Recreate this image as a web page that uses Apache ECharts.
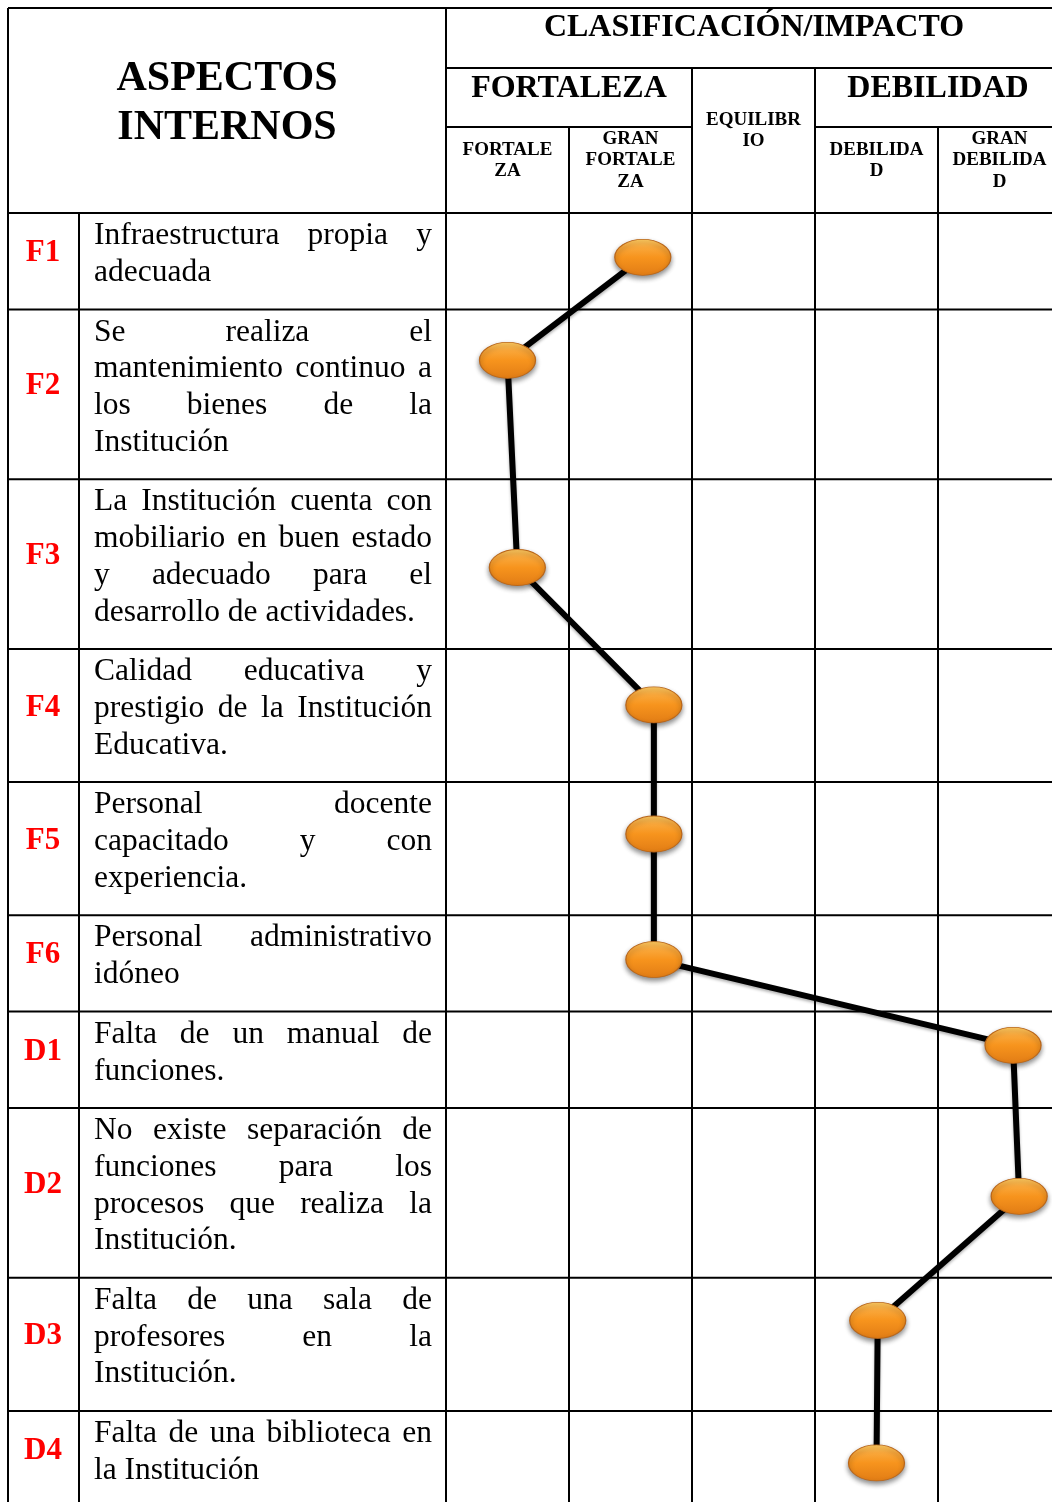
<!DOCTYPE html>
<html><head><meta charset="utf-8">
<script src="https://cdn.jsdelivr.net/npm/echarts@6/dist/echarts.min.js"></script>
<style>html,body{margin:0;padding:0;background:#fff}#main{width:1052px;height:1502px}</style>
</head><body><div id="main"></div>
<script>
// ---------- DATA ----------
const codes = ['F1','F2','F3','F4','F5','F6','D1','D2','D3','D4'];
const aspectLines = [
  ['Infraestructura propia y','adecuada'],
  ['Se realiza el','mantenimiento continuo a','los bienes de la','Institución'],
  ['La Institución cuenta con','mobiliario en buen estado','y adecuado para el','desarrollo de actividades.'],
  ['Calidad educativa y','prestigio de la Institución','Educativa.'],
  ['Personal docente','capacitado y con','experiencia.'],
  ['Personal administrativo','idóneo'],
  ['Falta de un manual de','funciones.'],
  ['No existe separación de','funciones para los','procesos que realiza la','Institución.'],
  ['Falta de una sala de','profesores en la','Institución.'],
  ['Falta de una biblioteca en','la Institución']
];
const titleLeft = ['ASPECTOS','INTERNOS'];
const titleTop = 'CLASIFICACIÓN/IMPACTO';
const groupHeaders = ['FORTALEZA','DEBILIDAD'];
const columnHeaders = [['FORTALE','ZA'],['GRAN','FORTALE','ZA'],['EQUILIBR','IO'],['DEBILIDA','D'],['GRAN','DEBILIDA','D']];
// position of each aspect on the impact scale (0..5, one unit per column)
const impactPosition = [1.60, 0.50, 0.58, 1.69, 1.69, 1.69, 4.61, 4.66, 3.51, 3.50];
// vertical position of the marker inside its row (0 = top, 1 = bottom)
const rowPosition = [0.46, 0.30, 0.52, 0.42, 0.39, 0.46, 0.35, 0.52, 0.32, 0.54];

// ---------- LAYOUT ----------
const W = 1052, H = 1502;
const ROW_PAD = 23, LINE_H = 36.7;
const X_LEFT = 8, X_CODE = 79, X_AREA = 446, X_RIGHT = W;
const Y_TOP = 8, Y_H1 = 68, Y_H2 = 127, Y_BODY = 213;
const COL_W = 123;
const rowH = aspectLines.map(l => ROW_PAD + l.length * LINE_H);
const rowTop = []; let acc = 0;
rowH.forEach(h => { rowTop.push(acc); acc += h; });
const totalH = acc;
const gridW = W - X_AREA, gridH = H - Y_BODY;

const serif = '"Liberation Serif","Times New Roman",serif';
const BODY_FONT = '31.5px ' + serif;
const TEXT_X = 94, TEXT_W = 338;

const points = codes.map((c, i) => [impactPosition[i], rowTop[i] + rowPosition[i] * rowH[i]]);

const ellipse = 'path://M0,50A50,50,0,1,1,100,50A50,50,0,1,1,0,50Z';

const chart = echarts.init(document.getElementById('main'), null, {renderer: 'canvas'});
chart.setOption({
  animation: false,
  backgroundColor: '#fff',
  grid: {left: X_AREA, top: Y_BODY, width: gridW, height: gridH},
  xAxis: {type: 'value', min: 0, max: gridW / COL_W, show: false},
  yAxis: {type: 'value', min: 0, max: gridH, inverse: true, show: false},
  series: [
    {type: 'line', data: points, symbol: 'none', z: 5, clip: false,
     lineStyle: {color: '#000', width: 6, shadowColor: 'rgba(0,0,0,0.3)', shadowBlur: 3, shadowOffsetY: 2}},
    {type: 'scatter', data: points, symbol: ellipse, symbolSize: [56, 36], z: 6, clip: false,
     itemStyle: {
       opacity: 1,
       color: new echarts.graphic.LinearGradient(0, 0, 0, 1, [
         {offset: 0, color: '#FDCB62'}, {offset: 0.22, color: '#F9A83C'},
         {offset: 0.5, color: '#F7941D'}, {offset: 1, color: '#E17C15'}]),
       borderColor: '#B9661A', borderWidth: 1,
       shadowColor: 'rgba(0,0,0,0.45)', shadowBlur: 5, shadowOffsetY: 3
     }}
  ]
});

// ---------- TABLE (graphic) ----------
const px = v => chart.convertToPixel({gridIndex: 0}, [v, 0])[0];
const py = v => chart.convertToPixel({gridIndex: 0}, [0, v])[1];
const g = [];
function line(x1, y1, x2, y2) {
  g.push({type: 'line', z: 1, shape: {x1, y1, x2, y2}, style: {stroke: '#000', lineWidth: 2}});
}
function text(t, x, y, font, fill, align) {
  g.push({type: 'text', z: 10, x, y,
    style: {text: t, font, fill: fill || '#000', align: align || 'center', verticalAlign: 'middle',
            textAlign: align || 'center', textVerticalAlign: 'middle'}});
}
const colX = [0,1,2,3,4,5].map(px);
const yEnd = H + 10;
// outer + header lines
line(X_LEFT, Y_TOP, X_RIGHT, Y_TOP);
line(X_LEFT, Y_TOP, X_LEFT, yEnd);
line(X_AREA, Y_TOP, X_AREA, yEnd);
line(X_AREA, Y_H1, X_RIGHT, Y_H1);
line(colX[0], Y_H2, colX[2], Y_H2);
line(colX[3], Y_H2, X_RIGHT, Y_H2);
line(colX[2], Y_H1, colX[2], yEnd);
line(colX[3], Y_H1, colX[3], yEnd);
line(colX[1], Y_H2, colX[1], yEnd);
line(colX[4], Y_H2, colX[4], yEnd);
line(X_CODE, Y_BODY, X_CODE, yEnd);
line(X_LEFT, Y_BODY, X_RIGHT, Y_BODY);
rowTop.forEach((t, i) => line(X_LEFT, py(t + rowH[i]), X_RIGHT, py(t + rowH[i])));

// headers
text(titleLeft[0], 227, 79, 'bold 42px ' + serif);
text(titleLeft[1], 227, 128, 'bold 42px ' + serif);
text(titleTop, 754, 28, 'bold 32px ' + serif);
text(groupHeaders[0], colX[1], 89, 'bold 32px ' + serif);
text(groupHeaders[1], colX[4], 89, 'bold 32px ' + serif);
const hdrTop = [150, 139, 120, 150, 139];
columnHeaders.forEach((lines, c) => {
  lines.forEach((t, k) => text(t, (colX[c] + colX[c + 1]) / 2, hdrTop[c] + k * 21.3, 'bold 19px ' + serif));
});

// body text with justification
const mctx = document.createElement('canvas').getContext('2d');
mctx.font = BODY_FONT;
codes.forEach((code, i) => {
  const top = py(rowTop[i]), bot = py(rowTop[i] + rowH[i]);
  text(code, 43, (top + bot) / 2 - 8, 'bold 31px ' + serif, '#FF0000');
  const lines = aspectLines[i];
  lines.forEach((ln, k) => {
    const y = top + 23 + k * LINE_H;
    const words = ln.split(' ');
    const last = k === lines.length - 1;
    const widths = words.map(w => mctx.measureText(w).width);
    const sum = widths.reduce((a, b) => a + b, 0);
    const gap = (!last && words.length > 1) ? (TEXT_W - sum) / (words.length - 1) : mctx.measureText(' ').width;
    let x = TEXT_X;
    words.forEach((w, j) => { text(w, x, y, BODY_FONT, '#000', 'left'); x += widths[j] + gap; });
  });
});
chart.setOption({graphic: {elements: g}});
</script></body></html>
